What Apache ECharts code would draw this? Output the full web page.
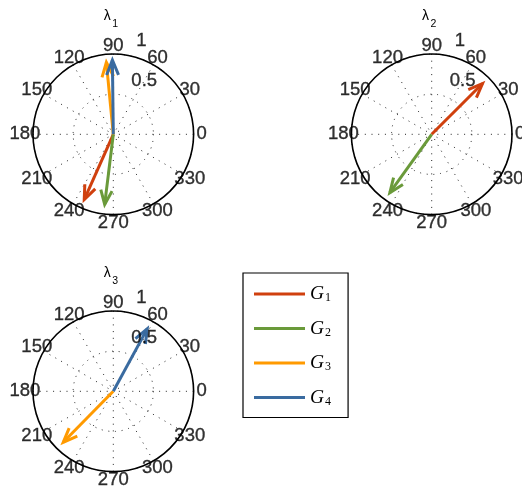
<!DOCTYPE html>
<html><head><meta charset="utf-8">
<script src="https://cdn.jsdelivr.net/npm/echarts@6/dist/echarts.min.js"></script>
<style>html,body{margin:0;padding:0;background:#fff}#c{width:522px;height:489px}</style>
</head><body><div id="c"></div>
<script>
// ---- data ----
const groupNames = ['G1', 'G2', 'G3', 'G4'];
const panelSubscripts = ['1', '2', '3'];
const angleTicks = [0, 30, 60, 90, 120, 150, 180, 210, 240, 270, 300, 330];
const angleTickLabels = ['0', '30', '60', '90', '120', '150', '180', '210', '240', '270', '300', '330'];
const radialTickLabels = ['0.5', '1'];
// vector magnitude / angle (deg) per group, null = not shown
const lambda1Mag = [0.89, 0.88, 0.90, 0.925];
const lambda1Ang = [246, 263, 95.5, 90.7];
const lambda2Mag = [0.895, 0.895, null, null];
const lambda2Ang = [45, 234.4, null, null];
const lambda3Mag = [null, null, 0.89, 0.885];
const lambda3Ang = [null, null, 225.5, 61.5];

// ---- styling / layout ----
const groupColors = ['#D0400E', '#6A9A3A', '#FF9A00', '#3A6BA0'];
const centers = [[113.3, 134.3], [431.7, 134.3], [113.3, 391.3]];
const R = 80.3;
const FONT = 'Liberation Sans, Arial, sans-serif';
const dotted = { color: '#222', width: 1, type: [1, 5.7] };

const panels = [[lambda1Mag, lambda1Ang], [lambda2Mag, lambda2Ang], [lambda3Mag, lambda3Ang]];

function arrowRender(params, api) {
  const a = api.value(1);
  const o = api.coord([0, a]);
  const t = api.coord([api.value(0), a]);
  const dx = t[0] - o[0], dy = t[1] - o[1];
  const bx = o[0] + 0.8 * dx, by = o[1] + 0.8 * dy;
  const px = -dy * 0.08, py = dx * 0.08;
  const color = api.visual('color');
  const st = { stroke: color, lineWidth: 3, fill: null, lineJoin: 'miter', lineCap: 'butt' };
  return {
    type: 'group',
    children: [
      { type: 'polyline', shape: { points: [o, t] }, style: st },
      { type: 'polyline', shape: { points: [[bx + px, by + py], t, [bx - px, by - py]] }, style: st }
    ]
  };
}

const labelStyle = {
  show: true, position: 'inside', formatter: '{b}', color: '#000', fontSize: 18.5, fontFamily: FONT,
  textBorderColor: '#000', textBorderWidth: 0.35
};

const series = [];
panels.forEach((p, i) => {
  series.push({
    type: 'scatter', coordinateSystem: 'polar', polarIndex: i, silent: true, clip: false,
    symbolSize: 0, z: 5,
    data: angleTicks.map((a, k) => ({ value: [1.1, a], name: angleTickLabels[k] })),
    label: labelStyle
  });
  series.push({
    type: 'scatter', coordinateSystem: 'polar', polarIndex: i, silent: true, clip: false,
    symbolSize: 0, z: 5,
    data: [{ value: [0.77, 60], name: radialTickLabels[0] }, { value: [1.21, 73.2], name: radialTickLabels[1] }],
    label: labelStyle
  });
  groupNames.forEach((name, g) => {
    if (p[0][g] == null) return;
    series.push({
      type: 'custom', name: name, coordinateSystem: 'polar', polarIndex: i, z: 3,
      itemStyle: { color: groupColors[g] },
      data: [[p[0][g], p[1][g]]],
      renderItem: arrowRender
    });
  });
});

const option = {
  animation: false,
  backgroundColor: '#fff',
  title: panelSubscripts.map((s, i) => ({
    text: '{l|λ}{s|' + s + '}',
    left: centers[i][0] - 2.5, top: centers[i][1] - 125.5, textAlign: 'center', padding: 0,
    textStyle: {
      fontSize: 14, fontWeight: 'normal', color: '#000', fontFamily: FONT,
      rich: {
        l: { fontSize: 14, lineHeight: 14, verticalAlign: 'top', fontFamily: FONT, color: '#000' },
        s: { fontSize: 10.5, lineHeight: 21, verticalAlign: 'bottom', padding: [0, 0, 0, 1.5], fontFamily: FONT, color: '#000' }
      }
    }
  })),
  polar: centers.map(c => ({ center: c, radius: R })),
  angleAxis: centers.map((c, i) => ({
    polarIndex: i, type: 'value', min: 0, max: 360, interval: 30, startAngle: 0, clockwise: false,
    axisLine: { show: true, lineStyle: { color: '#000', width: 1.6 } },
    axisTick: { show: false }, axisLabel: { show: false },
    splitLine: { show: true, lineStyle: dotted }
  })),
  radiusAxis: centers.map((c, i) => ({
    polarIndex: i, type: 'value', min: 0, max: 1, interval: 0.5,
    axisLine: { show: false }, axisTick: { show: false }, axisLabel: { show: false },
    splitLine: { show: true, lineStyle: dotted }
  })),
  legend: {
    orient: 'vertical', left: 243, top: 273,
    padding: [11, 17, 10, 11], itemGap: 14.5,
    itemWidth: 51, itemHeight: 3,
    borderColor: '#000', borderWidth: 1.2, selectedMode: false,
    data: groupNames.map(n => ({ name: n, icon: 'rect' })),
    formatter: n => '{g|G}{s|' + n.slice(1) + '}',
    textStyle: {
      rich: {
        g: { fontFamily: 'Liberation Serif, serif', fontStyle: 'italic', fontSize: 19.5, color: '#000', height: 20, lineHeight: 20, verticalAlign: 'bottom' },
        s: { fontFamily: 'Liberation Serif, serif', fontSize: 12, color: '#000', verticalAlign: 'bottom', lineHeight: 14, padding: [6, 0, 0, 1] }
      }
    }
  },
  series: series
};
const chart = echarts.init(document.getElementById('c'), null, { renderer: 'canvas' });
chart.setOption(option);
</script>
</body></html>
